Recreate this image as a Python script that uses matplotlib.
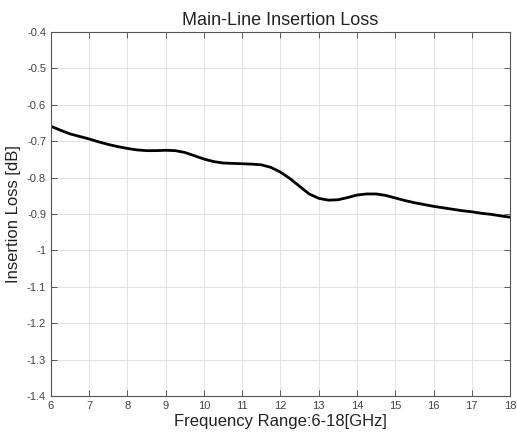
import matplotlib
matplotlib.use("Agg")
import matplotlib.pyplot as plt

plt.rcParams['font.family'] = ['Liberation Sans', 'DejaVu Sans']

# values
freq_ghz = [6.0, 6.25, 6.5, 6.75, 7.0, 7.25, 7.5, 7.75, 8.0, 8.25, 8.5, 8.75, 9.0, 9.25,
            9.5, 9.75, 10.0, 10.25, 10.5, 10.75, 11.0, 11.25, 11.5, 11.75, 12.0, 12.25,
            12.5, 12.75, 13.0, 13.25, 13.5, 13.75, 14.0, 14.25, 14.5, 14.75, 15.0, 15.25,
            15.5, 15.75, 16.0, 16.25, 16.5, 16.75, 17.0, 17.25, 17.5, 17.75, 18.0]
loss_db = [-0.659, -0.670, -0.680, -0.687, -0.694, -0.702, -0.709, -0.715, -0.720, -0.724,
           -0.726, -0.726, -0.725, -0.726, -0.731, -0.740, -0.749, -0.756, -0.760, -0.761,
           -0.762, -0.763, -0.765, -0.772, -0.785, -0.803, -0.824, -0.845, -0.857, -0.862,
           -0.861, -0.855, -0.848, -0.845, -0.845, -0.849, -0.856, -0.863, -0.869, -0.874,
           -0.879, -0.883, -0.887, -0.891, -0.894, -0.898, -0.901, -0.905, -0.909]
x_ticks = list(range(6, 19))
y_ticks = [-1.4, -1.3, -1.2, -1.1, -1.0, -0.9, -0.8, -0.7, -0.6, -0.5, -0.4]
y_labels = ["-1.4", "-1.3", "-1.2", "-1.1", "-1", "-0.9", "-0.8", "-0.7", "-0.6", "-0.5", "-0.4"]

fig = plt.figure(figsize=(5.17, 4.34), dpi=100)
ax = fig.add_axes([0.0986, 0.0876, 0.8879, 0.8387])
ax.plot(freq_ghz, loss_db, color="black", lw=2.0)
ax.set_xlim(6, 18)
ax.set_ylim(-1.4, -0.4)
ax.set_xticks(x_ticks)
ax.set_yticks(y_ticks)
ax.set_yticklabels(y_labels)
ax.grid(True, color="#e3e3e3", lw=0.8)
ax.tick_params(direction="in", top=True, right=True, labelsize=8, colors="#444444",
               length=4, width=0.6)
for s in ax.spines.values():
    s.set_color("#555555")
    s.set_linewidth(0.8)
ax.set_xlabel("Frequency Range:6-18[GHz]", fontsize=12, color="#222222", labelpad=2)
ax.set_ylabel("Insertion Loss [dB]", fontsize=12, color="#222222", labelpad=4)
ax.set_title("Main-Line Insertion Loss", fontsize=13, color="#222222", pad=5)
fig.savefig("out.png", dpi=100)
